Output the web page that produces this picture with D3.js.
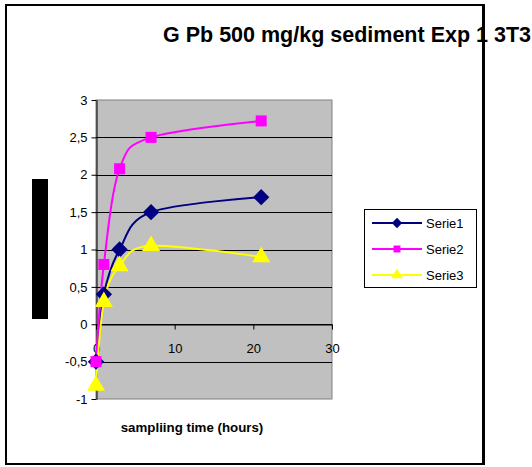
<!DOCTYPE html>
<html>
<head>
<meta charset="utf-8">
<script src="https://cdn.jsdelivr.net/npm/d3@7"></script>
<style>
body { margin: 0; background: #fff; }
text { font-family: "Liberation Sans", Arial, sans-serif; }
</style>
</head>
<body>
<svg id="chart" width="532" height="467"></svg>
<script>
var hours = [0, 1, 3, 7, 21];
var serie1 = [-0.5, 0.4, 1.0, 1.5, 1.7];
var serie2 = [-0.5, 0.8, 2.08, 2.5, 2.72];
var serie3 = [-0.82, 0.3, 0.78, 1.05, 0.9];
var seriesNames = ["Serie1", "Serie2", "Serie3"];
var yTicks = [-1, -0.5, 0, 0.5, 1, 1.5, 2, 2.5, 3];
var xTicks = [0, 10, 20, 30];

var colors = ["#000080", "#ff00ff", "#ffff00"];
var shapes = [d3.symbolDiamond2, d3.symbolSquare, d3.symbolTriangle];
var markerSize = [170, 121, 140];

var svg = d3.select("#chart");

// outer frame
svg.append("rect")
    .attr("x", 6).attr("y", 5)
    .attr("width", 478).attr("height", 459)
    .attr("fill", "#fff")
    .attr("stroke", "#000")
    .attr("stroke-width", 2);

var plot = {left: 96, right: 332, top: 100, bottom: 399};

var x = d3.scaleLinear().domain([0, 30]).range([plot.left, plot.right]);
var y = d3.scaleLinear().domain([-1, 3]).range([plot.bottom, plot.top]);

// plot area
svg.append("rect")
    .attr("x", plot.left).attr("y", plot.top)
    .attr("width", plot.right - plot.left).attr("height", plot.bottom - plot.top)
    .attr("fill", "#c0c0c0")
    .attr("stroke", "#808080")
    .attr("stroke-width", 1);

// horizontal gridlines
svg.append("g").selectAll("line")
    .data(yTicks.filter(function(d) { return d > -1 && d < 3; }))
  .enter().append("line")
    .attr("x1", plot.left).attr("x2", plot.right)
    .attr("y1", function(d) { return Math.round(y(d)) + 0.5; })
    .attr("y2", function(d) { return Math.round(y(d)) + 0.5; })
    .attr("stroke", "#000")
    .attr("stroke-width", 1);

// y axis
var yAxis = svg.append("g")
    .attr("transform", "translate(" + (plot.left + 0.5) + ",0)")
    .call(d3.axisLeft(y).tickValues(yTicks).tickSize(5).tickSizeOuter(0).tickPadding(4)
        .tickFormat(function(d) { return String(d).replace(".", ","); }));
yAxis.select(".domain").attr("stroke", "#000");
yAxis.selectAll("text")
    .attr("font-size", 13)
    .attr("fill", "#000")
    .attr("font-family", "Liberation Sans, Arial, sans-serif");

// x axis crossing at y = 0
var xAxis = svg.append("g")
    .attr("transform", "translate(0," + (Math.round(y(0)) + 0.5) + ")")
    .call(d3.axisBottom(x).tickValues(xTicks).tickSize(5).tickSizeOuter(0).tickPadding(14));
xAxis.select(".domain").attr("stroke", "#000");
xAxis.selectAll("text")
    .attr("font-size", 13)
    .attr("fill", "#000")
    .attr("font-family", "Liberation Sans, Arial, sans-serif");

// smoothed lines
var line = d3.line()
    .x(function(d) { return x(d[0]); })
    .y(function(d) { return y(d[1]); })
    .curve(d3.curveCardinal.tension(0));

var allSeries = [serie1, serie2, serie3];

allSeries.forEach(function(vals, i) {
    var pts = hours.map(function(h, k) { return [h, vals[k]]; });
    svg.append("path")
        .datum(pts)
        .attr("d", line)
        .attr("fill", "none")
        .attr("stroke", colors[i])
        .attr("stroke-width", 2);
});

allSeries.forEach(function(vals, i) {
    var pts = hours.map(function(h, k) { return [h, vals[k]]; });
    svg.append("g").selectAll("path")
        .data(pts)
      .enter().append("path")
        .attr("transform", function(d) { return "translate(" + x(d[0]) + "," + y(d[1]) + ")"; })
        .attr("d", d3.symbol().type(shapes[i]).size(markerSize[i]))
        .attr("fill", colors[i]);
});

// title
svg.append("text")
    .attr("x", 163).attr("y", 42)
    .attr("font-size", 21.5)
    .attr("font-weight", "bold")
    .text("G Pb 500 mg/kg sediment Exp 1 3T3");

// x axis title
svg.append("text")
    .attr("x", 192).attr("y", 432)
    .attr("text-anchor", "middle")
    .attr("font-size", 13.3)
    .attr("font-weight", "bold")
    .text("sampliing time (hours)");

// y axis title (rendered as a solid block in the original)
svg.append("rect")
    .attr("x", 32).attr("y", 179)
    .attr("width", 16).attr("height", 140)
    .attr("fill", "#000");

// legend
var legend = svg.append("g");
legend.append("rect")
    .attr("x", 364.5).attr("y", 209.5)
    .attr("width", 112).attr("height", 78)
    .attr("fill", "#fff")
    .attr("stroke", "#000")
    .attr("stroke-width", 1);

seriesNames.forEach(function(name, i) {
    var ly = 223 + i * 26;
    legend.append("line")
        .attr("x1", 372).attr("x2", 422)
        .attr("y1", ly).attr("y2", ly)
        .attr("stroke", colors[i])
        .attr("stroke-width", 2);
    legend.append("path")
        .attr("transform", "translate(397," + ly + ")")
        .attr("d", d3.symbol().type(shapes[i]).size(markerSize[i] * 0.4))
        .attr("fill", colors[i]);
    legend.append("text")
        .attr("x", 426).attr("y", ly + 5)
        .attr("font-size", 13)
        .text(name);
});

// frame line drawn over the title, as in the original
svg.append("line")
    .attr("x1", 483).attr("x2", 483)
    .attr("y1", 4).attr("y2", 465)
    .attr("stroke", "#000")
    .attr("stroke-width", 2);
</script>
</body>
</html>
